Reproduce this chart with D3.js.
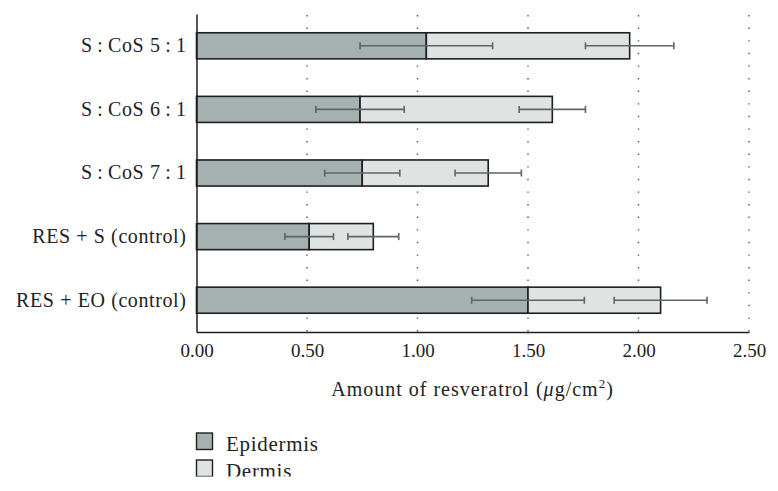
<!DOCTYPE html>
<html><head><meta charset="utf-8">
<script src="https://cdn.jsdelivr.net/npm/d3@7"></script>
<style>body{margin:0;background:#fff;} svg{display:block;}</style>
</head><body>
<svg id="chart" width="778" height="491"></svg>
<script>
const categories = ["S\u2009:\u2009CoS 5\u2009:\u20091", "S\u2009:\u2009CoS 6\u2009:\u20091", "S\u2009:\u2009CoS 7\u2009:\u20091", "RES + S (control)", "RES + EO (control)"];
const epidermis = [1.04, 0.74, 0.75, 0.51, 1.50];
const epidermisErr = [0.30, 0.20, 0.17, 0.11, 0.255];
const dermis = [0.92, 0.87, 0.57, 0.29, 0.60];
const dermisErr = [0.20, 0.15, 0.15, 0.115, 0.21];
const xTicks = [0, 0.5, 1.0, 1.5, 2.0, 2.5];
const seriesNames = ["Epidermis", "Dermis"];
const colors = ["#a4b1b0", "#dfe3e2"];

const svg = d3.select("#chart");
const font = "'Liberation Serif', 'Times New Roman', serif";
const x = d3.scaleLinear().domain([0, 2.5]).range([196.5, 749]);
const y = d3.scaleBand().domain(categories).range([14, 332]).paddingInner(0.59).paddingOuter(0.295);

// dotted grid
const gridG = svg.append("g");
xTicks.slice(1).forEach(t => {
  gridG.append("line").attr("x1", x(t)).attr("x2", x(t)).attr("y1", 15).attr("y2", 332)
    .attr("stroke", "#555").attr("stroke-width", 1.4).attr("stroke-dasharray", "1.4,11.2");
});

// bars
const barsG = svg.append("g");
categories.forEach((c, i) => {
  const y0 = y(c), h = y.bandwidth();
  barsG.append("rect").attr("x", x(0)).attr("y", y0).attr("width", x(epidermis[i]) - x(0)).attr("height", h)
    .attr("fill", colors[0]).attr("stroke", "#1e1e1e").attr("stroke-width", 1.6);
  barsG.append("rect").attr("x", x(epidermis[i])).attr("y", y0).attr("width", x(epidermis[i] + dermis[i]) - x(epidermis[i])).attr("height", h)
    .attr("fill", colors[1]).attr("stroke", "#1e1e1e").attr("stroke-width", 1.6);
});

// error bars
const errG = svg.append("g").attr("stroke", "#5b6667").attr("stroke-width", 1.6);
categories.forEach((c, i) => {
  const cy = y(c) + y.bandwidth() / 2;
  const segs = [[epidermis[i], epidermisErr[i]], [epidermis[i] + dermis[i], dermisErr[i]]];
  segs.forEach(([v, e]) => {
    errG.append("line").attr("x1", x(v - e)).attr("x2", x(v + e)).attr("y1", cy).attr("y2", cy);
    [v - e, v + e].forEach(p => errG.append("line").attr("x1", x(p)).attr("x2", x(p)).attr("y1", cy - 3.5).attr("y2", cy + 3.5));
  });
});

// axes
const xAxis = svg.append("g").attr("transform", "translate(0,332)")
  .call(d3.axisBottom(x).tickValues(xTicks).tickFormat(d3.format(".2f")).tickSize(0).tickPadding(11.5));
xAxis.select(".domain").attr("stroke", "#1e1e1e").attr("stroke-width", 1.5);
xAxis.selectAll("text").attr("font-family", font).attr("font-size", 19).attr("fill", "#222");

const yAxis = svg.append("g").attr("transform", "translate(196.5,0)")
  .call(d3.axisLeft(y).tickSize(0).tickPadding(10));
yAxis.select(".domain").attr("stroke", "#1e1e1e").attr("stroke-width", 1.5);
yAxis.selectAll("text").attr("font-family", font).attr("font-size", 20).attr("letter-spacing", 0.6).attr("fill", "#222");

// axis title
const title = svg.append("text").attr("x", 472.5).attr("y", 396).attr("text-anchor", "middle")
  .attr("font-family", font).attr("font-size", 20).attr("letter-spacing", 1).attr("fill", "#222");
title.append("tspan").text("Amount of resveratrol (");
title.append("tspan").attr("font-style", "italic").text("μ");
title.append("tspan").text("g/cm");
title.append("tspan").attr("font-size", 13).attr("dy", -8).text("2");
title.append("tspan").attr("dy", 8).text(")");

// legend
const leg = svg.append("g");
seriesNames.forEach((n, i) => {
  const ly = 433 + i * 27;
  leg.append("rect").attr("x", 196.5).attr("y", ly).attr("width", 16).attr("height", 16.5)
    .attr("fill", colors[i]).attr("stroke", "#1e1e1e").attr("stroke-width", 1.4);
  leg.append("text").attr("x", 226).attr("y", ly + 17.5).attr("font-family", font).attr("font-size", 21)
    .attr("letter-spacing", 0.7).attr("fill", "#222").text(n);
});
// clip bottom like reference
svg.append("rect").attr("x", 0).attr("y", 476.5).attr("width", 778).attr("height", 15).attr("fill", "#fff");
</script>
</body></html>
